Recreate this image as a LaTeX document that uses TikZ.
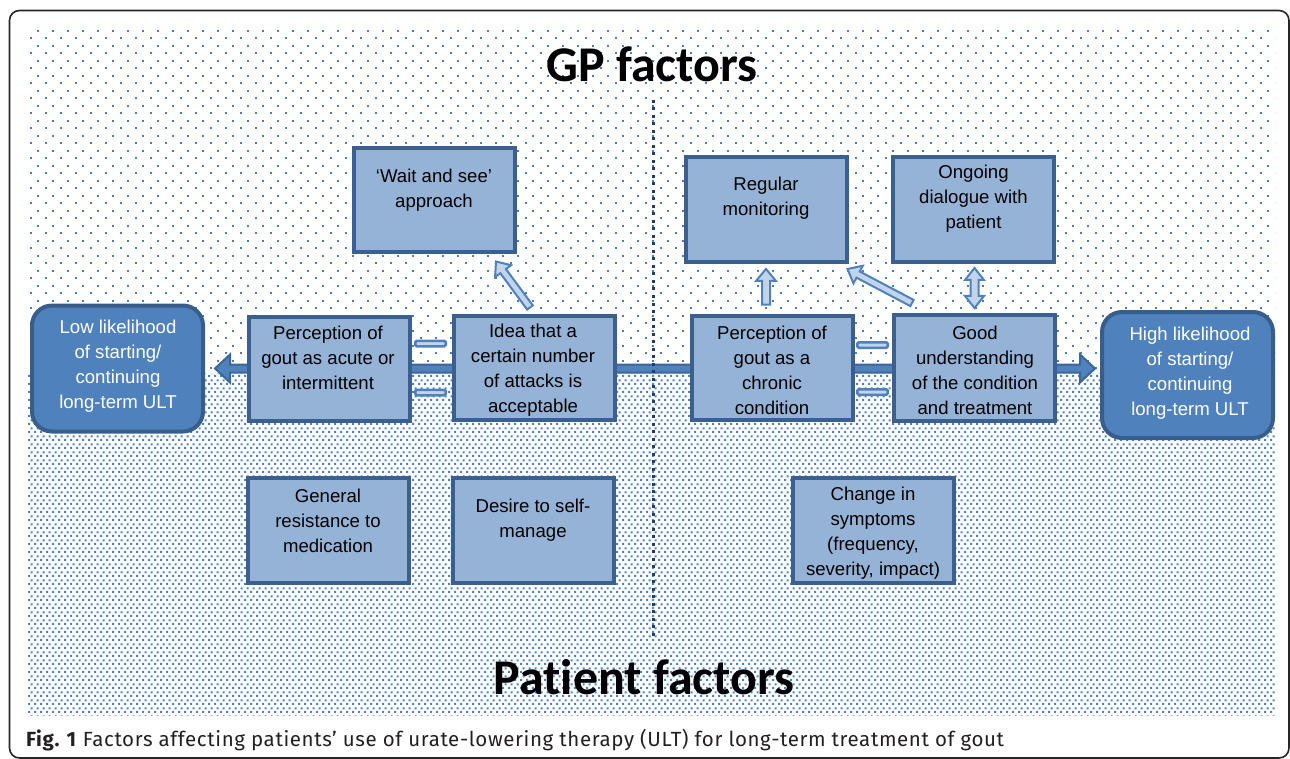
\documentclass[tikz,border=0pt]{standalone}
\usepackage{fontspec}
\setmainfont{Liberation Sans}
\newfontfamily\titlefont[Ligatures=NoCommon]{Carlito}
\newfontfamily\capfont[LetterSpace=3]{Fira Sans}
\usetikzlibrary{calc,patterns.meta}

\definecolor{boxfill}{HTML}{95B3D7}
\definecolor{boxdraw}{HTML}{3B5F8F}
\definecolor{rfill}{HTML}{4F81BD}
\definecolor{rdraw}{HTML}{385D8A}
\definecolor{bardraw}{HTML}{3E6598}
\definecolor{arrfill}{HTML}{C2D4EA}
\definecolor{arrdraw}{HTML}{4F81BD}
\definecolor{divcol}{HTML}{1F3D70}
\definecolor{dotcol}{HTML}{4A7CBA}
\definecolor{dotcolb}{HTML}{4F81BD}
\definecolor{capcol}{HTML}{231F20}

\tikzdeclarepattern{
  name=sparsedots,
  type=uncolored,
  bounding box={(0pt,0pt) and (15pt,15pt)},
  tile size={(15pt,15pt)},
  code={
    \pgfpathrectangle{\pgfpoint{0pt}{0pt}}{\pgfpoint{2pt}{2pt}}
    \pgfpathrectangle{\pgfpoint{7.5pt}{7.5pt}}{\pgfpoint{2pt}{2pt}}
    \pgfusepath{fill}
  }
}
\tikzdeclarepattern{
  name=densedots,
  type=uncolored,
  bounding box={(0pt,0pt) and (5.6pt,7.6pt)},
  tile size={(5.6pt,7.6pt)},
  code={
    \pgfpathrectangle{\pgfpoint{0pt}{0pt}}{\pgfpoint{2.2pt}{2.2pt}}
    \pgfpathrectangle{\pgfpoint{2.8pt}{3.8pt}}{\pgfpoint{2.2pt}{2.2pt}}
    \pgfusepath{fill}
  }
}

% single-headed block arrow: #1 style, #2 from, #3 to, #4 shaft half width, #5 head half width, #6 head length
\newcommand\sblockarrow[6]{%
  \coordinate (baS) at (#2);
  \coordinate (baE) at (#3);
  \coordinate (baH) at ($(baE)!#6!(baS)$);
  \filldraw[#1] ($(baS)!#4!90:(baE)$) -- ($(baH)!#4!-90:(baS)$) -- ($(baH)!#5!-90:(baS)$) -- (baE)
    -- ($(baH)!#5!90:(baS)$) -- ($(baH)!#4!90:(baS)$) -- ($(baS)!#4!-90:(baE)$) -- cycle;
}
% double-headed block arrow
\newcommand\dblockarrow[6]{%
  \coordinate (baS) at (#2);
  \coordinate (baE) at (#3);
  \coordinate (baH) at ($(baE)!#6!(baS)$);
  \coordinate (baT) at ($(baS)!#6!(baE)$);
  \filldraw[#1] (baS) -- ($(baT)!#5!90:(baE)$) -- ($(baT)!#4!90:(baE)$) -- ($(baH)!#4!-90:(baS)$)
    -- ($(baH)!#5!-90:(baS)$) -- (baE) -- ($(baH)!#5!90:(baS)$) -- ($(baH)!#4!90:(baS)$)
    -- ($(baT)!#4!-90:(baE)$) -- ($(baT)!#5!-90:(baE)$) -- cycle;
}

\begin{document}
\begin{tikzpicture}[x=1pt,y=-1pt,
  box/.style={rectangle, draw=boxdraw, line width=4pt, fill=boxfill, minimum width=161pt, minimum height=104pt, inner sep=0pt},
  rbox/.style={rectangle, rounded corners=20pt, draw=rdraw, line width=4pt, fill=rfill, minimum width=171pt, minimum height=126pt, inner sep=0pt},
  txt/.style={align=center, font=\fontsize{18.6}{25}\selectfont, inner sep=0pt},
  wtxt/.style={txt, text=white},
  eqbar/.style={rectangle, rounded corners=1.5pt, draw=arrdraw, line width=2.5pt, fill=arrfill, minimum width=30.5pt, minimum height=5.5pt, inner sep=0pt},
  mainarr/.style={fill=rfill, draw=bardraw, line width=2pt, line join=miter},
  smallarr/.style={fill=arrfill, draw=arrdraw, line width=2pt, line join=miter},
  divider/.style={draw=divcol, line width=3pt, dash pattern=on 3pt off 4.5pt},
  title/.style={font=\titlefont\bfseries\fontsize{50}{56}\selectfont, inner sep=0pt}
]
\useasboundingbox (0,0) rectangle (1290,759);

% background
\fill[pattern=sparsedots, pattern color=dotcol] (28,27) rectangle (1275,373);
\fill[pattern=densedots, pattern color=dotcolb] (28,373) rectangle (1275,715);
\draw[line width=1.6pt, black!85, rounded corners=10pt] (9.5,10.5) rectangle (1289,758);

% outer boxes
\node[rbox] (low) at (117.5,368.5) {};
\node[rbox] (high) at (1187.5,375) {};
\node[box] (wait) at (434,200.5) {};
\node[box, minimum height=105pt] (regular) at (766,209.5) {};
\node[box, minimum height=105pt] (ongoing) at (973.5,209.5) {};
\node[box, minimum height=105pt] (general) at (328,530.5) {};
\node[box, minimum height=105pt] (desire) at (533.5,530.5) {};
\node[box, minimum height=105pt] (change) at (873,530.5) {};

% positions of the boxes on the bar (drawn after the bar)
\coordinate (perc1c) at (329,368.5);
\coordinate (ideac) at (534,367.5);
\coordinate (perc2c) at (772.5,367.5);
\coordinate (goodc) at (974.5,368);

% main bar
\dblockarrow{mainarr}{$(low.east)+(10,0)$}{$(high.west |- low.east)+(-5,0)$}{4pt}{14pt}{15pt}

\node[box] (perc1) at (perc1c) {};
\node[box] (idea) at (ideac) {};
\node[box] (perc2) at (perc2c) {};
\node[box, minimum height=106pt] (good) at (goodc) {};

\draw[divider] (653,100) coordinate (divtop) -- (653,636) coordinate (divbot);

% texts
\node[txt] (wait-t) at (434,190) {‘Wait and see’\\approach};
\node[txt] (regular-t) at (766,198.5) {Regular\\monitoring};
\node[txt] (ongoing-t) at (973.5,199) {Ongoing\\dialogue with\\patient};
\node[txt] (perc1-t) at (328,358) {Perception of\\gout as acute or\\intermittent};
\node[txt] (idea-t) at (533,370.5) {Idea that a\\certain number\\of attacks is\\acceptable};
\node[txt] (perc2-t) at (772,370.5) {Perception of\\gout as a\\chronic\\condition};
\node[txt] (good-t) at (975,370.5) {Good\\understanding\\of the condition\\and treatment};
\node[txt] (general-t) at (328,521) {General\\resistance to\\medication};
\node[txt] (desire-t) at (533,520.5) {Desire to self-\\manage};
\node[txt] (change-t) at (873,533.5) {Change in\\symptoms\\(frequency,\\severity, impact)};
\node[wtxt] (low-t) at (118,366.5) {Low likelihood\\of starting/\\continuing\\long-term ULT};
\node[wtxt] (high-t) at (1190,373.5) {High likelihood\\of starting/\\continuing\\long-term ULT};

% equal signs
\node[eqbar] (eq1a) at (430.5,343.5) {};
\node[eqbar] (eq1b) at (430.5,392.5) {};
\node[eqbar] (eq2a) at (872.5,345) {};
\node[eqbar] (eq2b) at (872.5,392) {};

% small arrows
\sblockarrow{smallarr}{$(idea.north)+(-4,-6)$}{$(wait.south)+(62,7)$}{3.5pt}{10pt}{12pt}
\sblockarrow{smallarr}{$(regular.south |- perc2.north)+(0,-9)$}{$(regular.south)+(0,5)$}{4pt}{10pt}{12pt}
\sblockarrow{smallarr}{$(good.north west)+(20,-10)$}{$(regular.south east)+(-1,5)$}{3.5pt}{10pt}{12pt}
\dblockarrow{smallarr}{$(good.north)+(0,-5)$}{$(ongoing.south -| good.north)+(0,4)$}{4pt}{9.5pt}{12pt}

% titles
\node[title, anchor=base] (gp) at (652,82) {GP factors};
\node[title, anchor=base] (pf) at (644,694) {Patient factors};

% caption
\node[anchor=base west, inner sep=0pt, text=capcol, font=\capfont\fontsize{20.5}{23}\selectfont] (cap) at (26,746)
  {\textbf{Fig. 1} Factors affecting patients’ use of urate-lowering therapy (ULT) for long-term treatment of gout};
\end{tikzpicture}
\end{document}
